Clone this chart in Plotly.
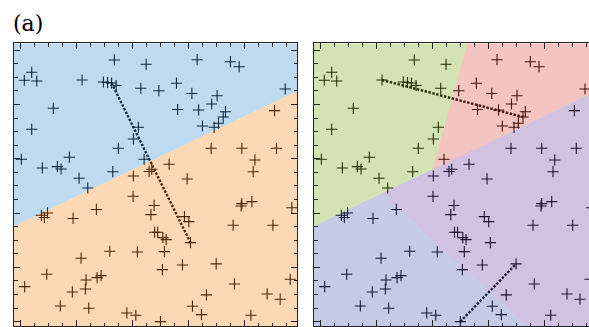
import plotly.graph_objects as go

# sample coordinates (shared by both panels)
xs = [1.671, 2.238, 0.196, 0.064, 0.286, 1.095, 1.475, 1.550, 1.621, 1.702,
      2.143, 2.464, 2.779, 3.054, 3.148, 3.743, 3.898, 3.505, 3.407, 4.720,
      0.582, 2.800, 3.175, 3.654, 3.613, 3.529, 3.452, 3.243, 4.529, 0.196,
      2.100, 2.011, 1.743, 3.398, 3.946, 4.564, 0.011, 0.868, 0.386, 0.654,
      0.720, 2.202, 1.041, 1.643, 1.196, 2.291, 2.339, 4.179, 4.148, 2.648,
      2.011, 2.970, 2.005, 1.350, 2.380, 2.323, 0.479, 0.368, 0.421, 0.934,
      3.946, 3.934, 4.125, 4.839, 2.921, 3.000, 3.791, 4.500, 2.389, 2.443,
      2.536, 2.595, 3.029, 1.589, 2.082, 2.564, 1.077, 2.529, 2.886, 3.488,
      0.464, 0.071, 1.166, 1.363, 1.434, 1.154, 0.921, 4.809, 3.814, 3.314,
      4.398, 4.630, 0.707, 1.214, 1.893, 2.054, 3.064, 3.225, 4.107, 2.493]
ys = [4.820, 4.740, 4.593, 4.446, 4.433, 4.451, 4.414, 4.405, 4.396, 4.350,
      4.298, 4.254, 4.392, 4.203, 4.825, 4.788, 4.696, 4.162, 4.009, 4.285,
      3.930, 3.908, 3.899, 3.867, 3.770, 3.654, 3.580, 3.604, 3.886, 3.543,
      3.580, 3.365, 3.193, 3.193, 3.193, 3.193, 2.991, 3.028, 2.831, 2.855,
      2.812, 2.991, 2.641, 2.762, 2.462, 2.766, 2.807, 2.978, 2.762, 2.899,
      2.683, 2.628, 2.309, 2.066, 2.140, 1.971, 2.002, 1.959, 1.919, 1.901,
      2.173, 2.131, 2.210, 2.099, 1.934, 1.842, 1.775, 1.775, 1.646, 1.646,
      1.547, 1.510, 1.455, 1.296, 1.284, 1.289, 1.168, 0.958, 1.044, 1.063,
      0.873, 0.645, 0.768, 0.810, 0.847, 0.602, 0.547, 0.781, 0.694, 0.492,
      0.510, 0.413, 0.289, 0.247, 0.160, 0.118, 0.284, 0.129, 0.118, 0.000]

# index pairs joined by dotted segments
pairs_a = [(8, 72)]
pairs_b = [(5, 24), (99, 79)]

# splitting lines (two points each)
split_main = [(0.0, 1.82), (5.0, 4.28)]
split_top = [(2.00, 2.81), (2.62, 5.13)]
split_bottom = [(1.09, 2.35), (3.69, -0.09)]

X_RANGE = [-0.12, 4.93]
X2_RANGE = [-0.12, 4.791]
Y_RANGE = [-0.086, 5.127]

fill_a = ["rgba(38,132,205,0.3)", "rgba(245,128,8,0.3)"]
fill_b = ["rgba(108,162,8,0.3)", "rgba(215,58,48,0.3)",
          "rgba(98,52,152,0.3)", "rgba(62,82,172,0.3)"]


def side(p, a, b):
    return (b[0] - a[0]) * (p[1] - a[1]) - (b[1] - a[1]) * (p[0] - a[0])


def clip(poly, line, keep_left):
    a, b = line
    sgn = 1 if keep_left else -1
    out = []
    n = len(poly)
    for i in range(n):
        cur, nxt = poly[i], poly[(i + 1) % n]
        sc, sn = sgn * side(cur, a, b), sgn * side(nxt, a, b)
        if sc >= 0:
            out.append(cur)
        if (sc >= 0) != (sn >= 0):
            t = sc / (sc - sn)
            out.append((cur[0] + t * (nxt[0] - cur[0]), cur[1] + t * (nxt[1] - cur[1])))
    return out


box = [(X_RANGE[0], Y_RANGE[0]), (X_RANGE[1], Y_RANGE[0]),
       (X_RANGE[1], Y_RANGE[1]), (X_RANGE[0], Y_RANGE[1])]

upper = clip(box, split_main, True)
lower = clip(box, split_main, False)
regions_a = [upper, lower]
regions_b = [clip(upper, split_top, True), clip(upper, split_top, False),
             clip(lower, split_bottom, True), clip(lower, split_bottom, False)]

fig = go.Figure()


def add_panel(xa, ya, pairs, regions, fills):
    fig.add_trace(go.Scatter(
        x=xs, y=ys, mode="markers", xaxis=xa, yaxis=ya,
        marker=dict(symbol="cross-thin", size=8,
                    line=dict(width=1.1, color="black")),
        hoverinfo="skip"))
    for i, j in pairs:
        fig.add_trace(go.Scatter(
            x=[xs[i], xs[j]], y=[ys[i], ys[j]], mode="lines", xaxis=xa, yaxis=ya,
            line=dict(color="black", width=2.4, dash="2.4px,1.6px"), hoverinfo="skip"))
    for poly, col in zip(regions, fills):
        fig.add_trace(go.Scatter(
            x=[p[0] for p in poly] + [poly[0][0]],
            y=[p[1] for p in poly] + [poly[0][1]],
            mode="lines", fill="toself", fillcolor=col, line=dict(width=0),
            xaxis=xa, yaxis=ya, hoverinfo="skip"))


add_panel("x", "y", pairs_a, regions_a, fill_a)
add_panel("x2", "y2", pairs_b, regions_b, fill_b)

W, H = 589, 327
ydom = [(H - 326.3) / H, (H - 43.3) / H]

common = dict(showgrid=False, zeroline=False, showticklabels=False,
              showline=True, linecolor="#222", linewidth=1,
              ticks="inside", ticklen=6, tickcolor="#222", tickwidth=1)
minor = dict(ticks="inside", ticklen=3.5, dtick=0.25, tick0=0, tickcolor="#222")

fig.update_layout(
    width=W, height=H, margin=dict(l=0, r=0, t=0, b=0),
    paper_bgcolor="white", plot_bgcolor="white", showlegend=False,
    xaxis=dict(domain=[14 / W, 297 / W], range=X_RANGE, tickvals=[0, 1, 2, 3, 4],
               mirror="allticks", minor=minor, **common),
    yaxis=dict(domain=ydom, range=Y_RANGE, tickvals=[0, 1, 2, 3, 4, 5],
               mirror="allticks", minor=minor, **common),
    xaxis2=dict(domain=[314 / W, 1.0], range=X2_RANGE, tickvals=[0, 1, 2, 3, 4],
                mirror="allticks", anchor="y2", minor=minor, **common),
    yaxis2=dict(domain=ydom, range=Y_RANGE, tickvals=[0, 1, 2, 3, 4, 5],
                mirror=False, anchor="x2", minor=minor, **common),
    annotations=[dict(text="(a)", x=11 / W, y=(H - 9) / H, xref="paper", yref="paper",
                      xanchor="left", yanchor="top", showarrow=False,
                      font=dict(family="DejaVu Serif, Liberation Serif, serif",
                                size=22, color="black"))],
)

fig.write_html("out.html")
